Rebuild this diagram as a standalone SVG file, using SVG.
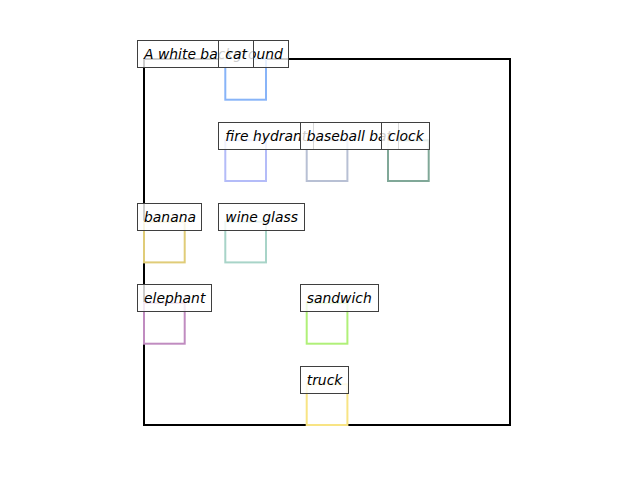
<svg xmlns="http://www.w3.org/2000/svg" width="640" height="480" viewBox="0 0 640 480">
<style>
.frame{fill:none;stroke:#000;stroke-width:2}
.obj{fill:none;stroke-width:2}
.lb{fill:#fff;fill-opacity:0.8;stroke:#3f3f3f;stroke-width:1}
.lt{font-family:"DejaVu Sans",sans-serif;font-style:oblique;font-size:13.9px;fill:#000}
</style>
<rect width="640" height="480" fill="#fff"/>
<g id="image-frame"><rect class="frame" x="144" y="59" width="366" height="366"/></g>
<g id="connectors"></g>
<g id="boxes">
<rect id="box-cat" class="obj" stroke="#88b4f8" x="225.3" y="59" width="40.7" height="40.7"/>
<rect id="box-fire-hydrant" class="obj" stroke="#b4bcf8" x="225.3" y="140.3" width="40.7" height="40.7"/>
<rect id="box-baseball-bat" class="obj" stroke="#b8c0d4" x="306.7" y="140.3" width="40.7" height="40.7"/>
<rect id="box-clock" class="obj" stroke="#80a898" x="388" y="140.3" width="40.7" height="40.7"/>
<rect id="box-banana" class="obj" stroke="#e0cc78" x="144" y="221.7" width="40.7" height="40.7"/>
<rect id="box-wine-glass" class="obj" stroke="#a8d4c8" x="225.3" y="221.7" width="40.7" height="40.7"/>
<rect id="box-elephant" class="obj" stroke="#c08cc0" x="144" y="303" width="40.7" height="40.7"/>
<rect id="box-sandwich" class="obj" stroke="#b0f078" x="306.7" y="303" width="40.7" height="40.7"/>
<rect id="box-truck" class="obj" stroke="#f8e484" x="306.7" y="384.3" width="40.7" height="40.7"/>
</g>
<g id="label-background"><rect class="lb" x="137.5" y="40.5" width="151" height="27"/><text class="lt" x="144" y="59">A white background</text></g>
<g id="label-cat"><rect class="lb" x="218.5" y="40.5" width="35" height="27"/><text class="lt" x="225.3" y="59">cat</text></g>
<g id="label-fire-hydrant"><rect class="lb" x="218.5" y="122.5" width="95" height="27"/><text class="lt" x="225.3" y="141">fire hydrant</text></g>
<g id="label-baseball-bat"><rect class="lb" x="300.5" y="122.5" width="98" height="27"/><text class="lt" x="306.7" y="141">baseball bat</text></g>
<g id="label-clock"><rect class="lb" x="381.5" y="122.5" width="48" height="27"/><text class="lt" x="388" y="141">clock</text></g>
<g id="label-banana"><rect class="lb" x="137.5" y="203.5" width="64" height="27"/><text class="lt" x="144" y="222">banana</text></g>
<g id="label-wine-glass"><rect class="lb" x="218.5" y="203.5" width="86" height="27"/><text class="lt" x="225.3" y="222">wine glass</text></g>
<g id="label-elephant"><rect class="lb" x="137.5" y="284.5" width="74" height="27"/><text class="lt" x="144" y="303">elephant</text></g>
<g id="label-sandwich"><rect class="lb" x="300.5" y="284.5" width="78" height="27"/><text class="lt" x="306.7" y="303">sandwich</text></g>
<g id="label-truck"><rect class="lb" x="300.5" y="366.5" width="48" height="27"/><text class="lt" x="306.7" y="385">truck</text></g>
</svg>
